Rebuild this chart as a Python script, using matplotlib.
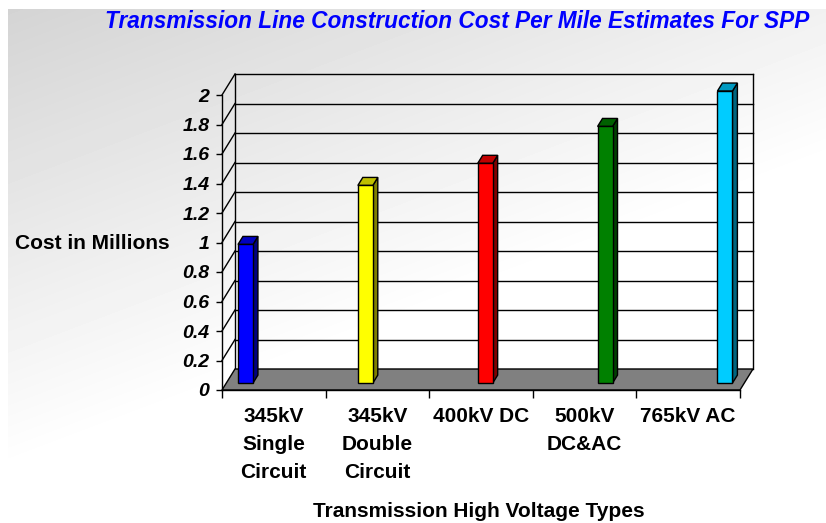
import numpy as np
import matplotlib
matplotlib.use('Agg')
import matplotlib.pyplot as plt
from matplotlib.patches import Polygon

plt.rcParams['font.family'] = ['Liberation Sans', 'DejaVu Sans']

# Data
categories = ['345kV\nSingle\nCircuit', '345kV\nDouble\nCircuit', '400kV DC',
              '500kV\nDC&AC', '765kV AC']
cost = [0.94, 1.34, 1.49, 1.74, 1.98]
yticks = [0, 0.2, 0.4, 0.6, 0.8, 1.0, 1.2, 1.4, 1.6, 1.8, 2.0]
ytick_labels = ['0', '0.2', '0.4', '0.6', '0.8', '1', '1.2', '1.4', '1.6', '1.8', '2']

# bar face colours: front, side, top
front_colors = ['#0000FF', '#FFFF00', '#FF0000', '#008000', '#00CCFF']
side_colors = ['#000080', '#808000', '#800000', '#004000', '#006680']
top_colors = ['#0000C0', '#C0C000', '#C00000', '#006000', '#0099C0']

W, H = 826, 523
fig = plt.figure(figsize=(W / 100, H / 100), dpi=100)

# grey-to-white slide background
bg = fig.add_axes([0, 0, 1, 1])
yy, xx = np.mgrid[0:H, 0:W]
shade = np.clip(0.83 + 0.00014 * (xx - 8) + 0.00037 * (yy - 9), 0, 1)
shade[:9, :] = 1
shade[:, :8] = 1
bg.imshow(shade, cmap='gray', vmin=0, vmax=1, extent=(0, W, H, 0),
          aspect='auto', interpolation='bilinear')
bg.set_axis_off()

# front plane of the 3d box
left, right, bottom, top = 222, 740, 390, 95
ax = fig.add_axes([left / W, 1 - bottom / H, (right - left) / W, (bottom - top) / H])
ncat = len(categories)
ax.set_xlim(0, ncat)
ax.set_ylim(0, 2)
ax.patch.set_visible(False)

# depth offset of the box in data units
dx = 13 / (right - left) * ncat
dy = 21 / (bottom - top) * 2

# floor
ax.add_patch(Polygon([(0, 0), (ncat, 0), (ncat + dx, dy), (dx, dy)], closed=True,
                     fc='#808080', ec='black', lw=1.0, clip_on=False, zorder=1))

# back wall gridlines + side wall diagonals
for v in yticks[1:]:
    ax.plot([dx, ncat + dx], [v + dy, v + dy], color='black', lw=1.0, clip_on=False, zorder=0.5)
    ax.plot([0, dx], [v, v + dy], color='black', lw=1.0, clip_on=False, zorder=0.5)
ax.plot([dx, dx], [dy, 2 + dy], color='black', lw=1.0, clip_on=False, zorder=0.5)
ax.plot([ncat + dx, ncat + dx], [dy, 2 + dy], color='black', lw=1.0, clip_on=False, zorder=0.5)

# bars
w = 15 / (right - left) * ncat
f0, f1 = 0.33, 0.71
bar_left = 0.113 + np.arange(ncat) * 1.157
for i, v in enumerate(cost):
    x0 = bar_left[i] + f0 * dx
    y0 = f0 * dy
    ox, oy = (f1 - f0) * dx, (f1 - f0) * dy
    front = [(x0, y0), (x0 + w, y0), (x0 + w, y0 + v), (x0, y0 + v)]
    side = [(x0 + w, y0), (x0 + w + ox, y0 + oy), (x0 + w + ox, y0 + v + oy), (x0 + w, y0 + v)]
    topf = [(x0, y0 + v), (x0 + w, y0 + v), (x0 + w + ox, y0 + v + oy), (x0 + ox, y0 + v + oy)]
    for pts, c in ((side, side_colors[i]), (topf, top_colors[i]), (front, front_colors[i])):
        ax.add_patch(Polygon(pts, closed=True, fc=c, ec='black', lw=1.0,
                             clip_on=False, zorder=2))

# axes styling
for s in ['top', 'right']:
    ax.spines[s].set_visible(False)
ax.spines['left'].set_linewidth(1.0)
ax.spines['bottom'].set_linewidth(1.0)
ax.set_yticks(yticks)
ax.set_yticklabels(ytick_labels, fontsize=14, fontweight='bold', style='italic')
ax.tick_params(axis='y', direction='out', length=4, width=1.0, pad=5)
ax.set_xticks(np.arange(ncat + 1))
ax.set_xticklabels([])
ax.tick_params(axis='x', which='major', direction='out', length=6, width=1.0)
ax.set_xticks(np.arange(ncat) + 0.5, minor=True)
ax.set_xticklabels(categories, minor=True, fontsize=15, fontweight='bold', linespacing=1.6)
ax.tick_params(axis='x', which='minor', length=0, pad=12)

fig.text(457 / W, 1 - 28 / H, 'Transmission Line Construction Cost Per Mile Estimates For SPP',
         ha='center', va='baseline', fontsize=16.3, fontweight='bold', style='italic', color='#0000FF')
fig.text(15 / W, 1 - 249 / H, 'Cost in Millions', ha='left', va='baseline',
         fontsize=15, fontweight='bold')
fig.text(479 / W, 1 - 517 / H, 'Transmission High Voltage Types', ha='center', va='baseline',
         fontsize=15, fontweight='bold')

fig.savefig('out.png', dpi=100)
